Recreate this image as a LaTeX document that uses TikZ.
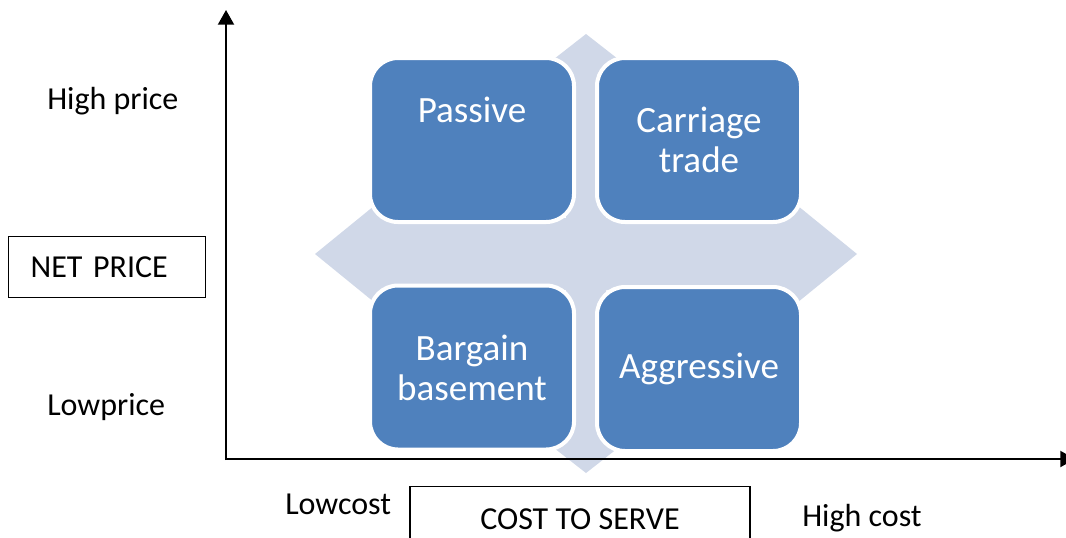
\documentclass[tikz,border=0pt]{standalone}
\usepackage{fontspec}
\setmainfont{Carlito}
\usetikzlibrary{calc,arrows.meta,positioning}
\definecolor{cellblue}{HTML}{4F81BD}
\definecolor{crossgrey}{HTML}{D0D8E8}
\tikzset{
  cell/.style={fill=cellblue,draw=white,line width=3pt,rounded corners=21pt,minimum width=153pt,minimum height=123pt,inner sep=0pt,text=white,align=center,font=\fontsize{27.8}{30}\selectfont},
  celltext/.style={text=white,inner sep=0pt,font=\fontsize{27.8}{30}\selectfont},
  lbl/.style={inner sep=0pt,font=\fontsize{24}{29}\selectfont},
  axis/.style={line width=1.5pt,-{Triangle[length=11pt,width=12pt]}}}
\newcommand{\quadrant}[4]{\node[cell] (#1) at (#2,#3) {#4};}

\begin{document}
\begin{tikzpicture}[x=0.75pt,y=-0.75pt]
\useasboundingbox (0,0) rectangle (1066,537);
% four-way arrow behind the cells
\fill[crossgrey] (586,34)--(650,84)--(606,84)--(606,218)--(787,218)--(787,197)--(857,254)--(787,311)--(787,290)--(606,290)--(606,423)--(650,423)--(586,473)--(522,423)--(566,423)--(566,290)--(385,290)--(385,311)--(315,254)--(385,197)--(385,218)--(566,218)--(566,84)--(522,84)--cycle;
\quadrant{passive}{472}{140}{}
\quadrant{carriage}{699}{140}{Carriage\\trade}
\quadrant{bargain}{472}{367.5}{Bargain\\basement}
\quadrant{aggressive}{699}{369}{Aggressive}
\node[celltext] (passivetext) at (472,110) {Passive};
% axes
\coordinate (origin) at (226,459);
\coordinate (ytop) at (226,10);
\coordinate (xend) at (1075,459);
\draw[axis] ($(origin)+(0,1)$) -- (ytop);
\draw[axis] ($(origin)+(-1,0)$) -- (xend);
% axis labels
\node[lbl,anchor=base west] (highprice) at (47,109) {High price};
\node[lbl,anchor=base west] (lowprice) at (47,415) {Lowprice};
\node[lbl,draw,line width=0.9pt,anchor=north west,text width=114.75pt,inner xsep=16.5pt,minimum height=45.75pt,align=left] (netprice) at (8,236) {NET PRICE};
\node[lbl,anchor=base west] (lowcost) at (285,514) {Lowcost};
\node[lbl,draw,line width=0.9pt,anchor=north,minimum width=255pt,minimum height=49.5pt] (costserve) at (580,486) {COST TO SERVE};
\node[lbl,anchor=base west] (highcost) at (802,526) {High cost};
\end{tikzpicture}
\end{document}
